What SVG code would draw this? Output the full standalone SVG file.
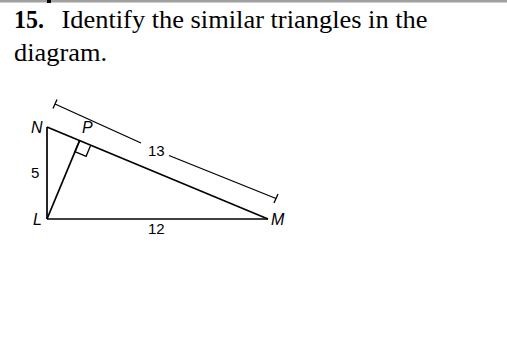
<svg xmlns="http://www.w3.org/2000/svg" width="507" height="360" viewBox="0 0 507 360">
<style>
.t{font-family:"Liberation Serif","Times New Roman",serif;font-size:25px;fill:#000}
.lbl{font-family:"Liberation Sans",Arial,sans-serif;font-size:16px;fill:#000;font-style:italic}
.num{font-family:"Liberation Sans",Arial,sans-serif;font-size:15px;fill:#000}
.ln{stroke:#000;stroke-width:1.7;fill:none}
.dim{stroke:#000;stroke-width:1.3;fill:none}
</style>
<rect x="0" y="0" width="507" height="360" fill="#fff"/>
<g id="topstrip">
<rect x="0" y="0" width="507" height="2.5" fill="#a0a0a0"/>
<rect x="47" y="0" width="4" height="3" fill="#000"/>
</g>
<g id="title">
<text class="t" x="14" y="27.5" font-weight="bold" textLength="30" lengthAdjust="spacingAndGlyphs">15.</text>
<text class="t" x="61.5" y="27.5" textLength="366" lengthAdjust="spacingAndGlyphs">Identify the similar triangles in the</text>
<text class="t" x="14" y="61" textLength="93" lengthAdjust="spacingAndGlyphs">diagram.</text>
</g>
<g id="connectors">
<line class="ln" x1="47" y1="127" x2="47" y2="219"/>
<line class="ln" x1="47" y1="219" x2="268" y2="219"/>
<line class="ln" x1="47" y1="127" x2="268" y2="219"/>
<line class="ln" x1="47" y1="219" x2="79.6" y2="140.6"/>
<path class="dim" d="M79.6,140.6 L75,151.7 L86.1,156.3 L90.7,145.2"/>
<line class="dim" x1="55" y1="104" x2="141" y2="143"/>
<line class="dim" x1="169" y1="155.5" x2="276" y2="198.5"/>
<line class="dim" x1="53" y1="108.5" x2="57" y2="99.5"/>
<line class="dim" x1="274" y1="203" x2="278" y2="194"/>
</g>
<g id="N"><text class="lbl" x="31" y="133">N</text></g>
<g id="P"><text class="lbl" x="82" y="133">P</text></g>
<g id="L"><text class="lbl" x="33" y="225">L</text></g>
<g id="M"><text class="lbl" x="271" y="225">M</text></g>
<g id="labels">
<text class="num" x="31" y="178">5</text>
<text class="num" x="148" y="156">13</text>
<text class="num" x="148" y="234">12</text>
</g>
</svg>
